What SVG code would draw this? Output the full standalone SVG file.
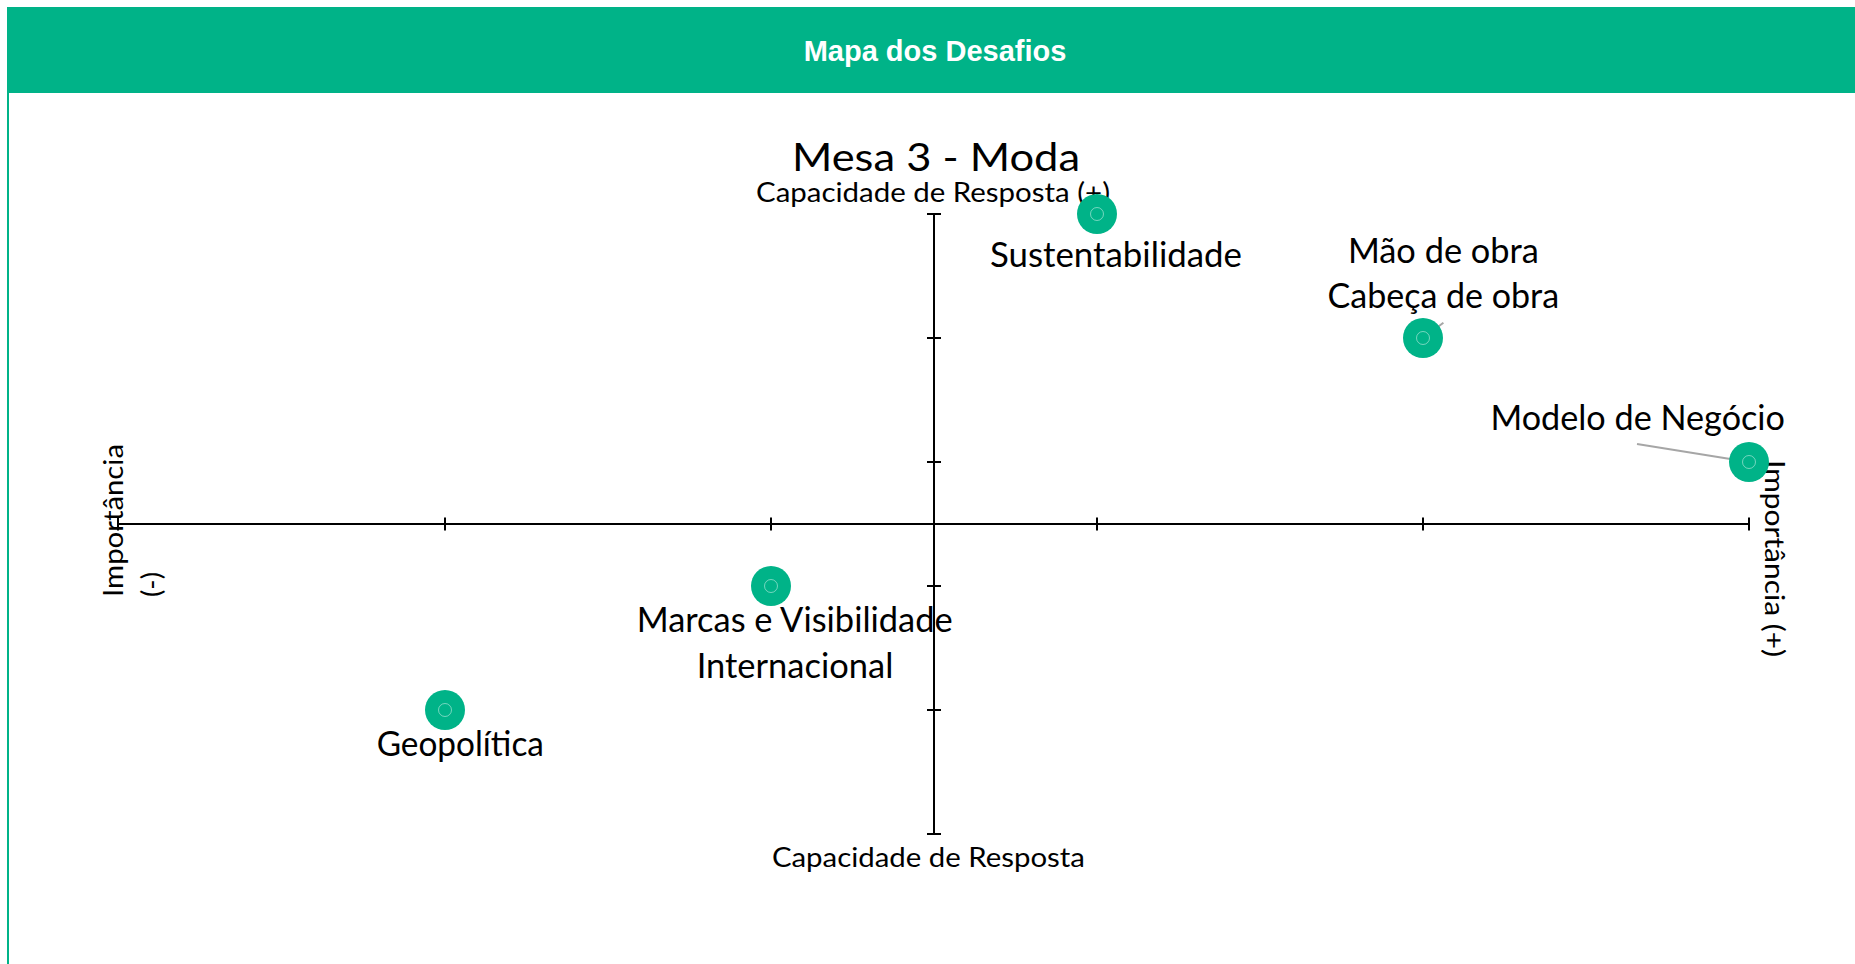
<svg xmlns="http://www.w3.org/2000/svg" width="1855" height="964" viewBox="0 0 1855 964">
  <style>
    .hdr { font-family: "Liberation Sans", Arial, sans-serif; font-weight: bold; font-size: 29px; fill: #ffffff; }
    .lbl { font-family: Lato, "Open Sans", sans-serif; fill: #000000; }
    .title { font-size: 38px; }
    .ax { font-size: 26px; }
    .bl { font-size: 34px; }
    .axis { stroke: #000000; stroke-width: 2; fill: none; }
    .bub { fill: #00B388; }
    .ring { fill: none; stroke: #ffffff; stroke-opacity: 0.45; stroke-width: 1; }
    .lead { stroke: #A6A6A6; stroke-width: 2; fill: none; }
  </style>
  <rect x="0" y="0" width="1855" height="964" fill="#ffffff"/>
  <g id="header">
    <rect x="7" y="7" width="1850" height="86" fill="#00B388"/>
    <line x1="8" y1="93" x2="8" y2="964" stroke="#00B388" stroke-width="2"/>
    <text class="hdr" x="935" y="61" text-anchor="middle">Mapa dos Desafios</text>
  </g>
  <g id="chart-title">
    <text class="lbl title" x="936" y="170.7" text-anchor="middle" textLength="288" lengthAdjust="spacingAndGlyphs">Mesa 3 - Moda</text>
  </g>
  <g id="axes">
    <line class="axis" x1="118" y1="524" x2="1749" y2="524"/>
    <line class="axis" x1="934" y1="214" x2="934" y2="834"/>
    <path class="axis" d="M118 517.5V530.5M445 517.5V530.5M771 517.5V530.5M1097 517.5V530.5M1423 517.5V530.5M1749 517.5V530.5"/>
    <path class="axis" d="M927 214H941M927 338H941M927 462H941M927 586H941M927 710H941M927 834H941"/>
    <text class="lbl ax" x="933" y="201.7" text-anchor="middle" textLength="354" lengthAdjust="spacingAndGlyphs">Capacidade de Resposta (+)</text>
    <text class="lbl ax" x="928.4" y="866.7" text-anchor="middle" textLength="313" lengthAdjust="spacingAndGlyphs">Capacidade de Resposta</text>
    <g transform="translate(122.7,597) rotate(-90)">
      <text class="lbl ax" x="0" y="0" textLength="153" lengthAdjust="spacingAndGlyphs">Importância</text>
      <text class="lbl ax" x="0" y="38.5" textLength="25" lengthAdjust="spacingAndGlyphs">(-)</text>
    </g>
    <g transform="translate(1765,460) rotate(90)">
      <text class="lbl ax" x="0" y="0" textLength="197" lengthAdjust="spacingAndGlyphs">Importância (+)</text>
    </g>
  </g>
  <g id="connectors">
    <line class="lead" x1="1443.4" y1="322.7" x2="1423" y2="338"/>
    <line class="lead" x1="1637" y1="444" x2="1749" y2="462"/>
  </g>
  <g id="node-sustentabilidade">
    <circle class="bub" cx="1097" cy="214" r="20"/>
    <circle class="ring" cx="1097" cy="214" r="6.5"/>
    <text class="lbl bl" x="1116" y="266.7" text-anchor="middle" textLength="252" lengthAdjust="spacingAndGlyphs">Sustentabilidade</text>
  </g>
  <g id="node-mao-de-obra">
    <circle class="bub" cx="1423" cy="338" r="20"/>
    <circle class="ring" cx="1423" cy="338" r="6.5"/>
    <text class="lbl bl" x="1443.4" y="262.7" text-anchor="middle" textLength="191" lengthAdjust="spacingAndGlyphs">Mão de obra</text>
    <text class="lbl bl" x="1443.3" y="308.3" text-anchor="middle" textLength="231.6" lengthAdjust="spacingAndGlyphs">Cabeça de obra</text>
  </g>
  <g id="node-modelo-de-negocio">
    <circle class="bub" cx="1749" cy="462" r="20"/>
    <circle class="ring" cx="1749" cy="462" r="6.5"/>
    <text class="lbl bl" x="1637.7" y="430" text-anchor="middle" textLength="294.6" lengthAdjust="spacingAndGlyphs">Modelo de Negócio</text>
  </g>
  <g id="node-marcas">
    <circle class="bub" cx="771" cy="586" r="20"/>
    <circle class="ring" cx="771" cy="586" r="6.5"/>
    <text class="lbl bl" x="794.7" y="631.7" text-anchor="middle" textLength="316" lengthAdjust="spacingAndGlyphs">Marcas e Visibilidade</text>
    <text class="lbl bl" x="795" y="678.3" text-anchor="middle" textLength="196.6" lengthAdjust="spacingAndGlyphs">Internacional</text>
  </g>
  <g id="node-geopolitica">
    <circle class="bub" cx="445" cy="710" r="20"/>
    <circle class="ring" cx="445" cy="710" r="6.5"/>
    <text class="lbl bl" x="460.3" y="756" text-anchor="middle" textLength="167.3" lengthAdjust="spacingAndGlyphs">Geopolítica</text>
  </g>
</svg>
